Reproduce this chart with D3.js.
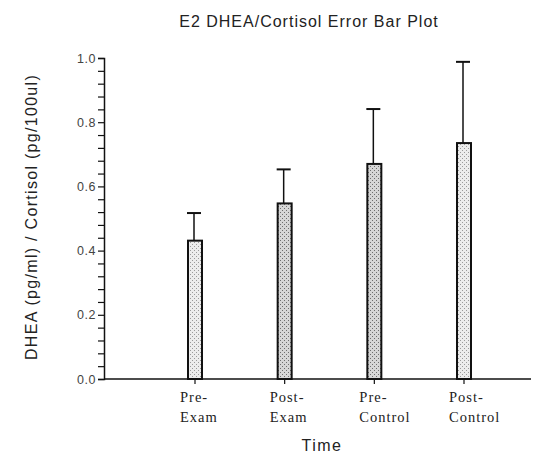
<!DOCTYPE html>
<html>
<head>
<meta charset="utf-8">
<script src="https://cdn.jsdelivr.net/npm/d3@7"></script>
<style>
  body { margin: 0; background: #fff; }
  svg { display: block; }
</style>
</head>
<body>
<script>
// data -----------------------------------------------------------------
const groups = ["Pre-Exam", "Post-Exam", "Pre-Control", "Post-Control"],
      groupLines = [["Pre-", "Exam"], ["Post-", "Exam"], ["Pre-", "Control"], ["Post-", "Control"]],
      means = [0.431, 0.547, 0.670, 0.735],
      errors = [0.086, 0.106, 0.171, 0.253],
      yTicks = [0.0, 0.2, 0.4, 0.6, 0.8, 1.0];

const width = 545,
      height = 455,
      barWidth = 14,
      sansFont = "'Liberation Sans', Arial, sans-serif",
      serifFont = "'Liberation Serif', 'Times New Roman', serif";

const svg = d3.select("body").append("svg")
  .attr("width", width)
  .attr("height", height);

// stippled fills for the bars
const defs = svg.append("defs");
function stipple(id, bg, dot) {
  const p = defs.append("pattern")
    .attr("id", id)
    .attr("patternUnits", "userSpaceOnUse")
    .attr("width", 4).attr("height", 4);
  p.append("rect").attr("width", 4).attr("height", 4).attr("fill", bg);
  p.append("rect").attr("x", 0).attr("y", 0).attr("width", 1).attr("height", 1).attr("fill", dot);
  p.append("rect").attr("x", 2).attr("y", 2).attr("width", 1).attr("height", 1).attr("fill", dot);
}
stipple("light", "#ececec", "#9a9a9a");
stipple("dark", "#d6d6d6", "#6e6e6e");
const fills = ["url(#light)", "url(#dark)", "url(#dark)", "url(#light)"];

// scales ---------------------------------------------------------------
const y = d3.scaleLinear().domain([0, 1]).range([379, 58]);
const x = d3.scalePoint().domain(groups).range([195, 464]);
const axisX0 = 104, axisX1 = 531;

// y axis with 4 minor ticks between labels
const yAxis = svg.append("g").attr("transform", `translate(${axisX0},0)`)
  .call(d3.axisLeft(y).tickValues(d3.range(0, 1.0001, 0.04)).tickSize(6)
    .tickFormat(d => yTicks.some(t => Math.abs(t - d) < 1e-6) ? d3.format(".1f")(d) : ""));
yAxis.select(".domain").attr("stroke", "#111").attr("stroke-width", 1.5);
yAxis.selectAll(".tick line").attr("stroke", "#111").attr("stroke-width", 1.2);
yAxis.selectAll(".tick text")
  .attr("x", -8)
  .attr("font-family", sansFont)
  .attr("font-size", 12.5)
  .attr("letter-spacing", 0.5)
  .attr("fill", "#444");

// x axis baseline and ticks
svg.append("line")
  .attr("x1", axisX0).attr("x2", axisX1)
  .attr("y1", y(0)).attr("y2", y(0))
  .attr("stroke", "#111").attr("stroke-width", 1.5);
svg.append("g").selectAll("line")
  .data(groups).enter().append("line")
  .attr("x1", d => x(d)).attr("x2", d => x(d))
  .attr("y1", y(0)).attr("y2", y(0) + 5)
  .attr("stroke", "#111").attr("stroke-width", 1.2);

// error bars (upper half only)
const err = svg.append("g").attr("stroke", "#111").attr("stroke-width", 1.5);
err.selectAll(".stem").data(groups).enter().append("line")
  .attr("x1", d => x(d) - 1).attr("x2", d => x(d) - 1)
  .attr("y1", (d, i) => y(means[i]))
  .attr("y2", (d, i) => y(means[i] + errors[i]));
err.selectAll(".cap").data(groups).enter().append("line")
  .attr("x1", d => x(d) - barWidth / 2 - 1).attr("x2", d => x(d) + barWidth / 2 - 1)
  .attr("y1", (d, i) => y(means[i] + errors[i]))
  .attr("y2", (d, i) => y(means[i] + errors[i]))
  .attr("stroke-width", 2);

// bars
svg.append("g").selectAll("rect")
  .data(groups).enter().append("rect")
  .attr("x", d => x(d) - barWidth / 2)
  .attr("y", (d, i) => y(means[i]))
  .attr("width", barWidth)
  .attr("height", (d, i) => y(0) - y(means[i]))
  .attr("fill", (d, i) => fills[i])
  .attr("stroke", "#111")
  .attr("stroke-width", 2);

// category labels, two lines each
const cat = svg.append("g").selectAll("text")
  .data(groups).enter().append("text")
  .attr("font-family", serifFont)
  .attr("font-size", 14.5)
  .attr("letter-spacing", 1)
  .attr("fill", "#222");
cat.each(function(d, i) {
  d3.select(this).selectAll("tspan")
    .data(groupLines[i]).enter().append("tspan")
    .attr("x", x(d) - 15)
    .attr("y", (t, j) => 402 + j * 20)
    .text(t => t);
});

// titles
svg.append("text")
  .attr("x", 309).attr("y", 27)
  .attr("text-anchor", "middle")
  .attr("font-family", sansFont)
  .attr("font-size", 16)
  .attr("letter-spacing", 1)
  .attr("fill", "#222")
  .text("E2 DHEA/Cortisol Error Bar Plot");

svg.append("text")
  .attr("x", 322).attr("y", 451)
  .attr("text-anchor", "middle")
  .attr("font-family", sansFont)
  .attr("font-size", 16)
  .attr("letter-spacing", 1.5)
  .attr("fill", "#222")
  .text("Time");

svg.append("text")
  .attr("transform", "translate(37,217) rotate(-90)")
  .attr("text-anchor", "middle")
  .attr("font-family", sansFont)
  .attr("font-size", 16)
  .attr("letter-spacing", 1.3)
  .attr("fill", "#222")
  .text("DHEA (pg/ml) / Cortisol (pg/100ul)");
</script>
</body>
</html>
